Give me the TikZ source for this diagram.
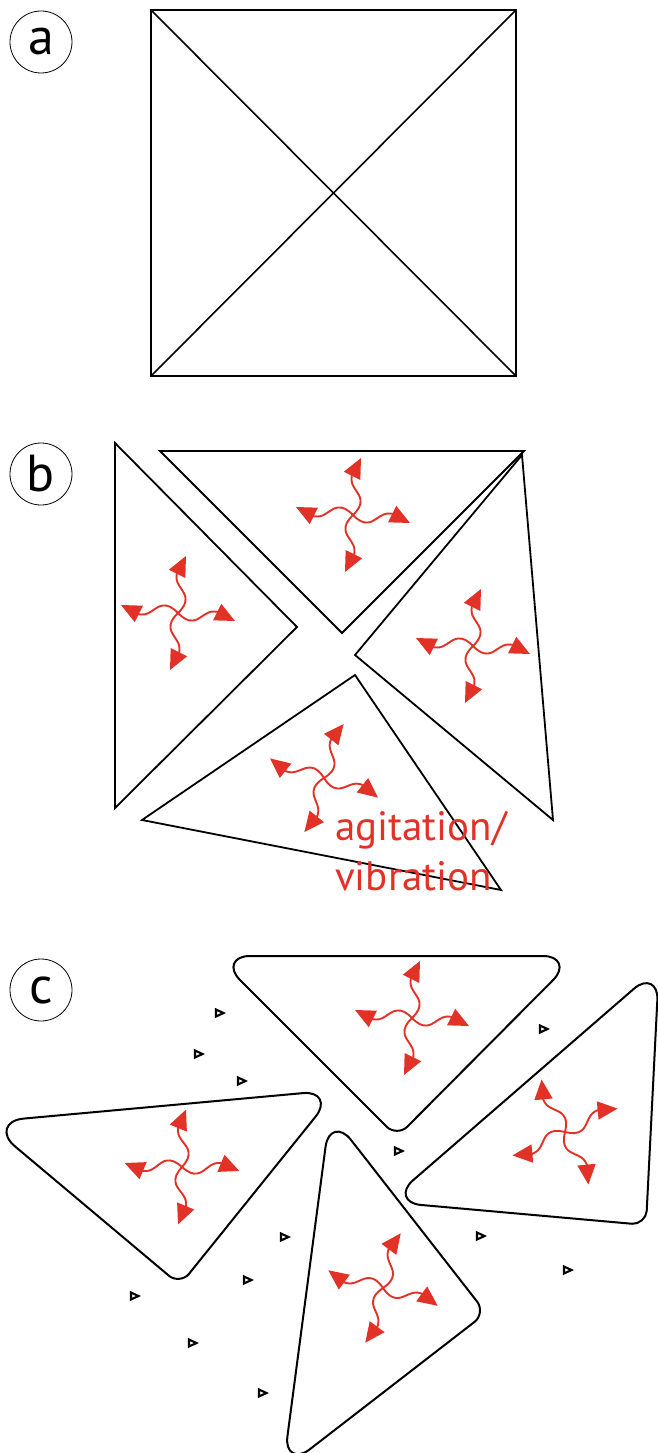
\documentclass[tikz,border=0pt]{standalone}
\usepackage{fontspec}
\setmainfont{PT Sans}
\usetikzlibrary{arrows.meta,calc}
\definecolor{agred}{RGB}{226,50,39}
\tikzset{
  lab/.style={circle,draw,line width=0.8pt,minimum size=62pt,inner sep=0pt,font=\fontsize{52}{52}\selectfont},
  atri/.style={line width=1.6pt},
  btri/.style={line width=1.8pt,line join=miter},
  ctri/.style={line width=2pt},
  agitline/.style={agred,line width=1.9pt,-{Triangle[length=20pt,width=18pt]}},
  agit/.pic={\foreach \r in {0,90,180,270}
    \draw[agitline,rotate=\r] (0,0) .. controls (6,6) and (10,8) .. (15,7.5)
      .. controls (22,7) and (28,-2) .. (36,-1.5)
      .. controls (44,-1.5) and (49,4) .. (57,8);},
  tt/.pic={\draw[line width=2.1pt,line join=miter] (-3,-3.5) -- (4.5,0) -- (-3,3.5) -- cycle;},
  redtxt/.style={agred,font=\fontsize{41}{50}\selectfont,inner sep=0pt,anchor=base west}
}
\newcommand{\rtri}[6]{%
 \draw[ctri] ($(#1)!#4!(#2)$) -- ($(#2)!#5!(#1)$)
  .. controls ($(#2)!0.5*#5!(#1)$) and ($(#2)!0.5*#5!(#3)$) .. ($(#2)!#5!(#3)$)
  -- ($(#3)!#6!(#2)$)
  .. controls ($(#3)!0.5*#6!(#2)$) and ($(#3)!0.5*#6!(#1)$) .. ($(#3)!#6!(#1)$)
  -- ($(#1)!#4!(#3)$)
  .. controls ($(#1)!0.5*#4!(#3)$) and ($(#1)!0.5*#4!(#2)$) .. cycle;}
\begin{document}
\begin{tikzpicture}[x=1pt,y=-1pt]
\useasboundingbox (0,0) rectangle (658,1453);
% labels
\node[lab] (la) at (41,42) {a};
\node[lab] (lb) at (41,474) {b};
\node[lab] (lc) at (41,990) {c};
% panel a
\coordinate (a1) at (151,10);
\coordinate (a2) at (516,10);
\coordinate (a3) at (516,376);
\coordinate (a4) at (151,376);
\draw[atri] (a1) -- (a2) -- (a3) -- (a4) -- cycle;
\draw[atri] (a1) -- (a3);
\draw[atri] (a2) -- (a4);
% panel b
\draw[btri] (115,443) -- (297,627) -- (115,808) -- cycle;
\draw[btri] (160,451) -- (524,451) -- (342,633) -- cycle;
\draw[btri] (522,455) -- (355,655) -- (553,820) -- cycle;
\draw[btri] (355,675) -- (142,820) -- (501,890) -- cycle;
\pic at (353,515) {agit};
\pic at (178,613) {agit};
\pic at (473,646) {agit};
\pic[rotate=-12] at (324,778) {agit};
\node[redtxt] (t1) at (335,840) {agitation/};
\node[redtxt] (t2) at (335,890) {vibration};
% panel c
\coordinate (ta) at (216,956);
\coordinate (tb) at (577,956);
\coordinate (tc) at (397,1137);
\rtri{ta}{tb}{tc}{34pt}{34pt}{14pt}
\coordinate (ra) at (659,967);
\coordinate (rb) at (646,1225);
\coordinate (rc) at (388,1202);
\rtri{ra}{rb}{rc}{33pt}{14pt}{33pt}
\coordinate (la1) at (-14,1122);
\coordinate (la2) at (337,1090);
\coordinate (la3) at (180,1285);
\rtri{la1}{la2}{la3}{38pt}{34pt}{14pt}
\coordinate (ba) at (330,1113);
\coordinate (bb) at (486,1313);
\coordinate (bc) at (283,1470);
\rtri{ba}{bb}{bc}{34pt}{14pt}{34pt}
\pic at (412,1018) {agit};
\pic[rotate=32] at (565,1132) {agit};
\pic[rotate=4] at (182,1167) {agit};
\pic[rotate=-10] at (383,1288) {agit};
\foreach \p in {(219,1013),(198,1054),(241,1081),(543,1029),(398,1151),(284,1237),(247,1280),(134,1296),(192,1343),(262,1393),(480,1236),(567,1270)}
  \pic at \p {tt};
\end{tikzpicture}
\end{document}
